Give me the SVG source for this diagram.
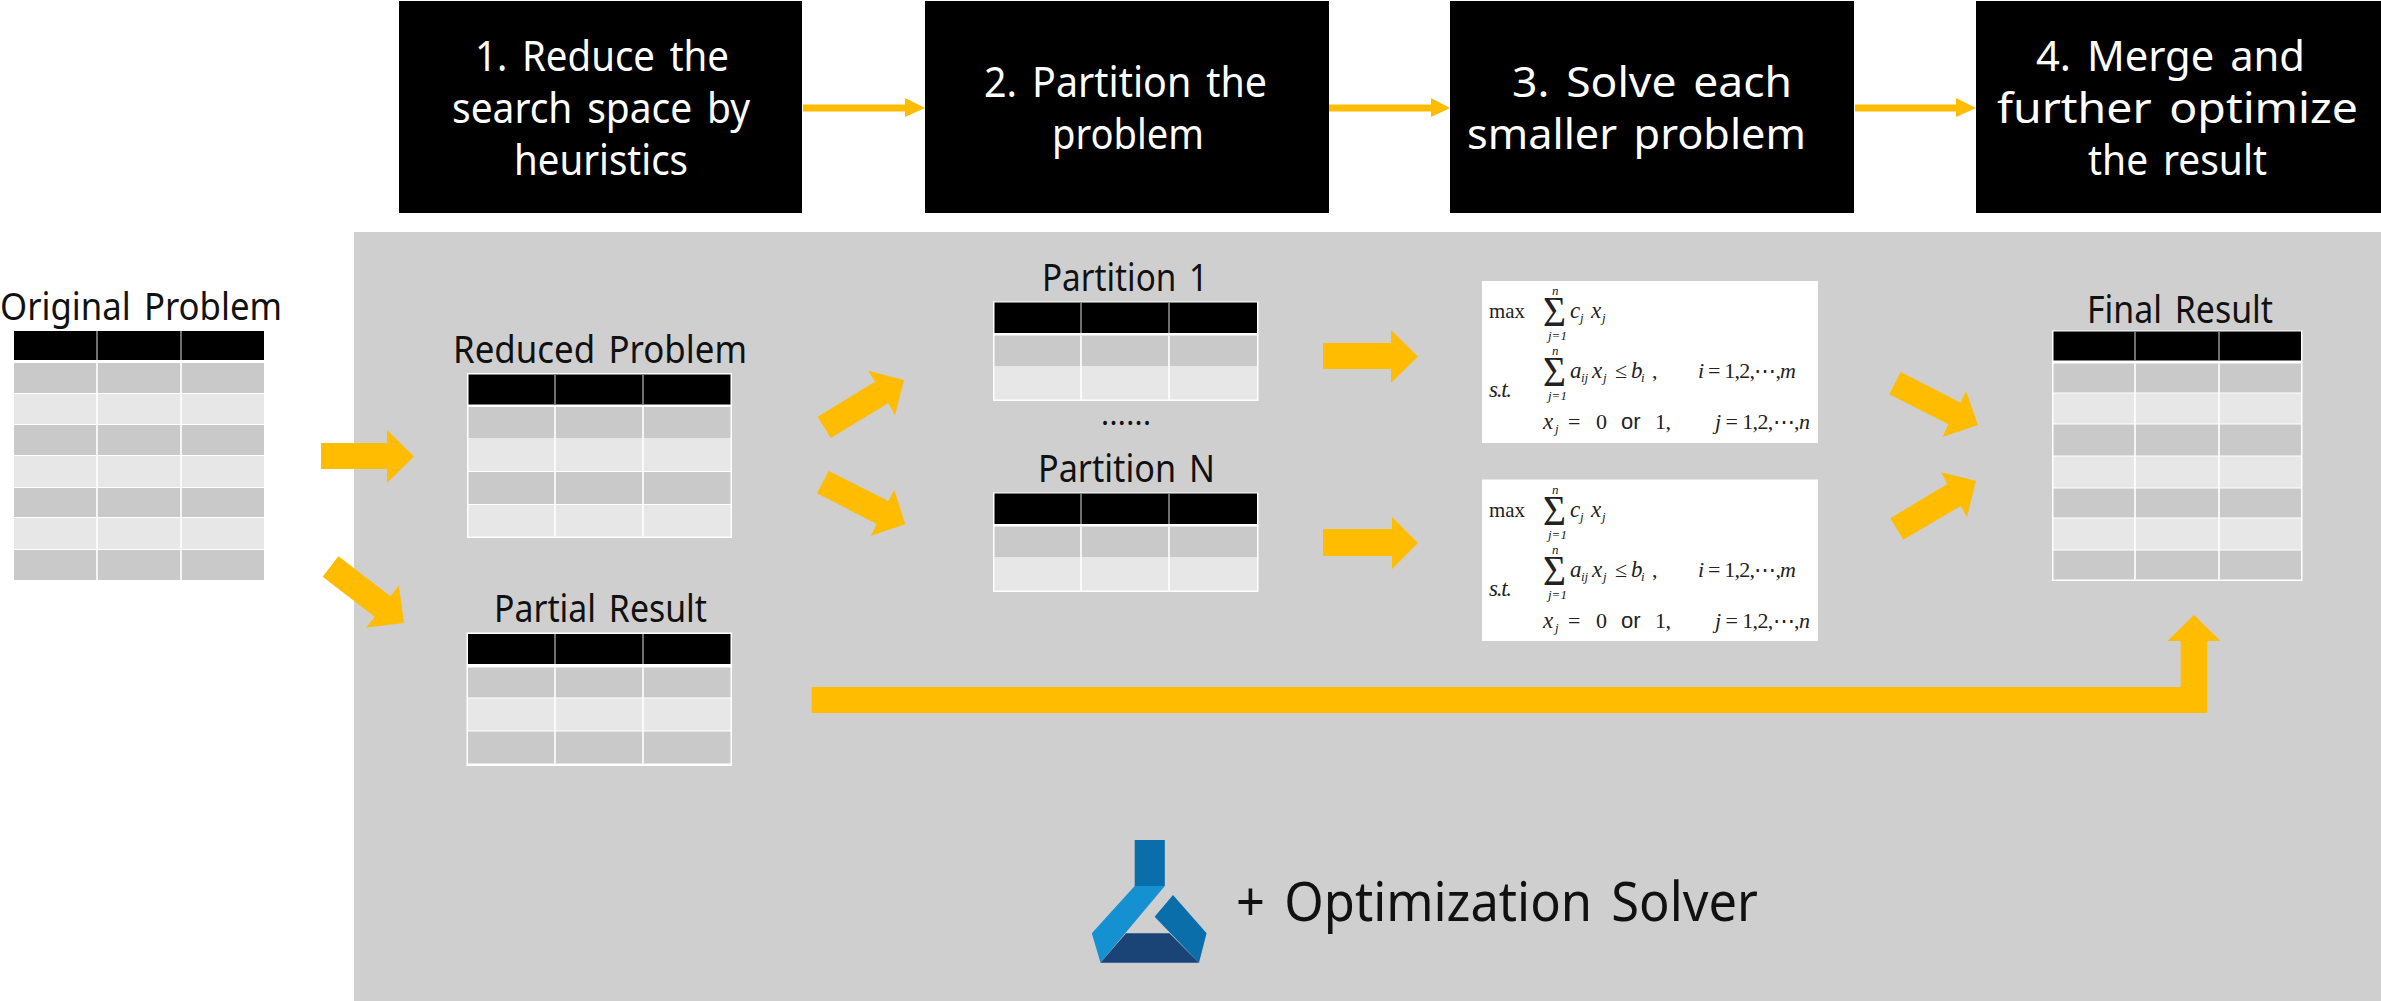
<svg xmlns="http://www.w3.org/2000/svg" width="2381" height="1001" viewBox="0 0 2381 1001">
<style>
text{font-family:"Noto Sans","Open Sans","Liberation Sans",sans-serif}
.lb{font-size:38px;fill:#111;word-spacing:.12em}
.st{font-size:42px;fill:#fff;word-spacing:.12em}
.hd{fill:#000}.r1{fill:#c9c9c9}.r2{fill:#e7e7e7}.bg{fill:#fff}
.vl{stroke:#fff;stroke-width:1.6}.vh{stroke:#8a8a8a;stroke-width:1.6}
.ar{fill:#ffbc00}
.fb{fill:#fff}
.f{font-family:"Liberation Serif",serif;font-size:22px;fill:#222}
.fi{font-family:"Liberation Serif",serif;font-size:23px;font-style:italic;fill:#222}
.fs{font-family:"Liberation Serif",serif;font-size:13px;font-style:italic;fill:#222}
.fg{font-family:"Liberation Serif",serif;font-size:42px;fill:#222}
.fo{font-family:"Liberation Sans",sans-serif;font-size:22px;fill:#222}
</style>
<rect id="panel" x="354" y="232" width="2027" height="769" fill="#cfcfcf"/>

<g id="step1"><rect class="hd" x="399" y="1" width="403" height="212"/>
<text class="st" x="475" y="71" textLength="254" lengthAdjust="spacingAndGlyphs">1. Reduce the</text>
<text class="st" x="452" y="123" textLength="298" lengthAdjust="spacingAndGlyphs">search space by</text>
<text class="st" x="514" y="175" textLength="174" lengthAdjust="spacingAndGlyphs">heuristics</text></g>
<g id="step2"><rect class="hd" x="925" y="1" width="404" height="212"/>
<text class="st" x="984" y="97" textLength="283" lengthAdjust="spacingAndGlyphs">2. Partition the</text>
<text class="st" x="1052" y="149" textLength="152" lengthAdjust="spacingAndGlyphs">problem</text></g>
<g id="step3"><rect class="hd" x="1450" y="1" width="404" height="212"/>
<text class="st" x="1512" y="97" textLength="280" lengthAdjust="spacingAndGlyphs">3. Solve each</text>
<text class="st" x="1467" y="149" textLength="339" lengthAdjust="spacingAndGlyphs">smaller problem</text></g>
<g id="step4"><rect class="hd" x="1976" y="1" width="405" height="212"/>
<text class="st" x="2036" y="71" textLength="269" lengthAdjust="spacingAndGlyphs">4. Merge and</text>
<text class="st" x="1997" y="123" textLength="361" lengthAdjust="spacingAndGlyphs">further optimize</text>
<text class="st" x="2088" y="175" textLength="179" lengthAdjust="spacingAndGlyphs">the result</text></g>

<g id="original-problem">
<text class="lb" x="0" y="320" textLength="282" lengthAdjust="spacingAndGlyphs">Original Problem</text>
<g transform="translate(14 331)">
<rect class="hd" width="250" height="29"/>
<rect class="r1" y="32" width="250" height="30"/><rect class="r2" y="63" width="250" height="30"/><rect class="r1" y="94" width="250" height="30"/><rect class="r2" y="125" width="250" height="31"/><rect class="r1" y="157" width="250" height="29"/><rect class="r2" y="187" width="250" height="31"/><rect class="r1" y="219" width="250" height="30"/>
<path class="vh" d="M83 0V29M167 0V29"/><path class="vl" d="M83 32V249M167 32V249"/>
</g></g>

<g id="reduced-problem">
<text class="lb" x="453" y="363" textLength="294" lengthAdjust="spacingAndGlyphs">Reduced Problem</text>
<g transform="translate(467 373)">
<rect class="bg" width="265" height="165"/>
<rect class="hd" x="1.500" y="1.500" width="262" height="30"/>
<rect class="r1" x="1.500" y="34" width="262" height="31"/><rect class="r2" x="1.500" y="65" width="262" height="33"/><rect class="r1" x="1.500" y="99" width="262" height="32"/><rect class="r2" x="1.500" y="132" width="262" height="31.500"/>
<path class="vh" d="M88 1.500V31.500M176 1.500V31.500"/><path class="vl" d="M88 34V163M176 34V163"/>
</g></g>

<g id="partial-result">
<text class="lb" x="494" y="622" textLength="213" lengthAdjust="spacingAndGlyphs">Partial Result</text>
<g transform="translate(466.500 632.500)">
<rect class="bg" width="265.500" height="133.500"/>
<rect class="hd" x="1.500" y="1.500" width="262.500" height="30"/>
<rect class="r1" x="1.500" y="35" width="262.500" height="30"/><rect class="r2" x="1.500" y="66" width="262.500" height="32"/><rect class="r1" x="1.500" y="99" width="262.500" height="32"/>
<path class="vh" d="M88.500 1.500V31.500M176.500 1.500V31.500"/><path class="vl" d="M88.500 35V131M176.500 35V131"/>
</g></g>

<g id="partition-1">
<text class="lb" x="1042" y="291" textLength="166" lengthAdjust="spacingAndGlyphs">Partition 1</text>
<g transform="translate(993 301.500)">
<rect class="bg" width="265.500" height="99.500"/>
<rect class="hd" x="1.500" y="1" width="262.500" height="30.500"/>
<rect class="r1" x="1.500" y="34" width="262.500" height="31"/><rect class="r2" x="1.500" y="65" width="262.500" height="33"/>
<path class="vh" d="M88 1V31.500M176 1V31.500"/><path class="vl" d="M88 34V99.500M176 34V99.500"/>
</g></g>

<text id="ellipsis" class="lb" x="1101" y="425" textLength="50" style="font-size:30px">......</text>

<g id="partition-n">
<text class="lb" x="1038" y="482" textLength="177" lengthAdjust="spacingAndGlyphs">Partition N</text>
<g transform="translate(993 492.500)">
<rect class="bg" width="265.500" height="99.500"/>
<rect class="hd" x="1.500" y="1" width="262.500" height="30.500"/>
<rect class="r1" x="1.500" y="34" width="262.500" height="31"/><rect class="r2" x="1.500" y="65" width="262.500" height="33"/>
<path class="vh" d="M88 1V31.500M176 1V31.500"/><path class="vl" d="M88 34V99.500M176 34V99.500"/>
</g></g>

<g id="final-result">
<text class="lb" x="2087" y="323" textLength="186" lengthAdjust="spacingAndGlyphs">Final Result</text>
<g transform="translate(2052 330.500)">
<rect class="bg" width="250.500" height="250.500"/>
<rect class="hd" x="1.500" y="1" width="247.500" height="29"/>
<rect class="r1" x="1.500" y="33" width="247.500" height="29"/><rect class="r2" x="1.500" y="63" width="247.500" height="30"/><rect class="r1" x="1.500" y="94" width="247.500" height="31"/><rect class="r2" x="1.500" y="126" width="247.500" height="31"/><rect class="r1" x="1.500" y="158" width="247.500" height="29"/><rect class="r2" x="1.500" y="188" width="247.500" height="31"/><rect class="r1" x="1.500" y="220" width="247.500" height="29"/>
<path class="vh" d="M83 1V30M167 1V30"/><path class="vl" d="M83 33V249M167 33V249"/>
</g></g>

<g id="formula-1" transform="translate(1482 281)">
<rect class="fb" width="336" height="162"/>
<text class="f" x="7" y="37" textLength="36" lengthAdjust="spacingAndGlyphs">max</text>
<text class="fg" x="61" y="45" textLength="23" lengthAdjust="spacingAndGlyphs">Σ</text>
<text class="fs" x="70" y="14">n</text>
<text class="fs" x="66" y="59">j=1</text>
<text class="fi" x="88" y="37">c</text><text class="fs" x="98" y="41">j</text><text class="fi" x="109" y="37">x</text><text class="fs" x="120" y="41">j</text>
<text class="fg" x="61" y="105" textLength="23" lengthAdjust="spacingAndGlyphs">Σ</text>
<text class="fs" x="70" y="74">n</text>
<text class="fs" x="66" y="119">j=1</text>
<text class="fi" x="88" y="97">a</text><text class="fs" x="99" y="101">ij</text><text class="fi" x="110" y="97">x</text><text class="fs" x="121" y="101">j</text><text class="f" x="133" y="97">≤</text><text class="fi" x="149" y="97">b</text><text class="fs" x="159" y="101">i</text><text class="f" x="170" y="97">,</text>
<text class="fi" x="7" y="116" textLength="23">s.t.</text>
<text class="f" x="216" y="97" textLength="98"><tspan font-style="italic">i</tspan> = 1,2,⋯,<tspan font-style="italic">m</tspan></text>
<text class="fi" x="61" y="148">x</text><text class="fs" x="73" y="152">j</text><text class="f" x="86" y="148">=</text><text class="f" x="114" y="148">0</text><text class="fo" x="139" y="148">or</text><text class="f" x="173" y="148" textLength="16">1,</text>
<text class="f" x="233" y="148" textLength="95"><tspan font-style="italic">j</tspan> = 1,2,⋯,<tspan font-style="italic">n</tspan></text>
</g>
<g id="formula-2" transform="translate(1482 479.500)">
<rect class="fb" width="336" height="161.500"/>
<text class="f" x="7" y="37" textLength="36" lengthAdjust="spacingAndGlyphs">max</text>
<text class="fg" x="61" y="45" textLength="23" lengthAdjust="spacingAndGlyphs">Σ</text>
<text class="fs" x="70" y="14">n</text>
<text class="fs" x="66" y="59">j=1</text>
<text class="fi" x="88" y="37">c</text><text class="fs" x="98" y="41">j</text><text class="fi" x="109" y="37">x</text><text class="fs" x="120" y="41">j</text>
<text class="fg" x="61" y="105" textLength="23" lengthAdjust="spacingAndGlyphs">Σ</text>
<text class="fs" x="70" y="74">n</text>
<text class="fs" x="66" y="119">j=1</text>
<text class="fi" x="88" y="97">a</text><text class="fs" x="99" y="101">ij</text><text class="fi" x="110" y="97">x</text><text class="fs" x="121" y="101">j</text><text class="f" x="133" y="97">≤</text><text class="fi" x="149" y="97">b</text><text class="fs" x="159" y="101">i</text><text class="f" x="170" y="97">,</text>
<text class="fi" x="7" y="116" textLength="23">s.t.</text>
<text class="f" x="216" y="97" textLength="98"><tspan font-style="italic">i</tspan> = 1,2,⋯,<tspan font-style="italic">m</tspan></text>
<text class="fi" x="61" y="148">x</text><text class="fs" x="73" y="152">j</text><text class="f" x="86" y="148">=</text><text class="f" x="114" y="148">0</text><text class="fo" x="139" y="148">or</text><text class="f" x="173" y="148" textLength="16">1,</text>
<text class="f" x="233" y="148" textLength="95"><tspan font-style="italic">j</tspan> = 1,2,⋯,<tspan font-style="italic">n</tspan></text>
</g>

<g id="connectors" class="ar">
<polygon points="803,104.500 905,104.500 905,98 925,108 905,117 905,111.500 803,111.500"/>
<polygon points="1329,104.500 1431,104.500 1431,98 1450,108 1431,117 1431,111.500 1329,111.500"/>
<polygon points="1855,104.500 1956,104.500 1956,98 1976,108 1956,117 1956,111.500 1855,111.500"/>
<polygon points="321,443 387,443 387,430 414,456.500 387,483 387,469 321,469"/>
<polygon points="338.400,556.200 390.500,596.200 398.800,585.500 404,623 366.400,627.500 374.700,616.800 322.600,576.800"/>
<polygon points="817.700,416.700 875,381.700 868.300,370.700 904,380 895,415.300 888.300,403.300 830.700,438"/>
<polygon points="828.700,471 888.300,501 894.300,490 905.300,524.300 871,535.700 876.700,524 817,493.300"/>
<polygon points="1323,343 1391,343 1391,330 1418,356.500 1391,383 1391,369 1323,369"/>
<polygon points="1323,529 1392,529 1392,517 1418,543 1392,569 1392,556 1323,556"/>
<polygon points="1900.700,372 1960.700,402.700 1966,391 1978,425 1942.700,437 1948.300,424.300 1889.300,394.300"/>
<polygon points="1890.300,518.300 1947.300,484 1941,472.300 1976,480.700 1967,517 1960.700,506 1903.300,539.700"/>
<polygon points="811.700,687 2180.700,687 2180.700,641 2167.300,641 2194,615 2220.700,641 2207.300,641 2207.300,713 811.700,713"/>
</g>

<g id="solver">
<rect x="1134.700" y="840" width="30.100" height="46" fill="#0a6eab"/>
<polygon points="1134.700,886 1164.800,886 1100.500,962.700 1091.800,933.300" fill="#1591d2"/>
<polygon points="1173,895 1206.600,933.300 1199,962.700 1154.600,916.700" fill="#0a6eab"/>
<polygon points="1126,933.300 1169.400,933.300 1199,962.700 1100.500,962.700" fill="#1b4476"/>
<text x="1236" y="921" font-size="54" fill="#111" textLength="522" lengthAdjust="spacingAndGlyphs" style="word-spacing:.12em">+ Optimization Solver</text>
</g>
</svg>
